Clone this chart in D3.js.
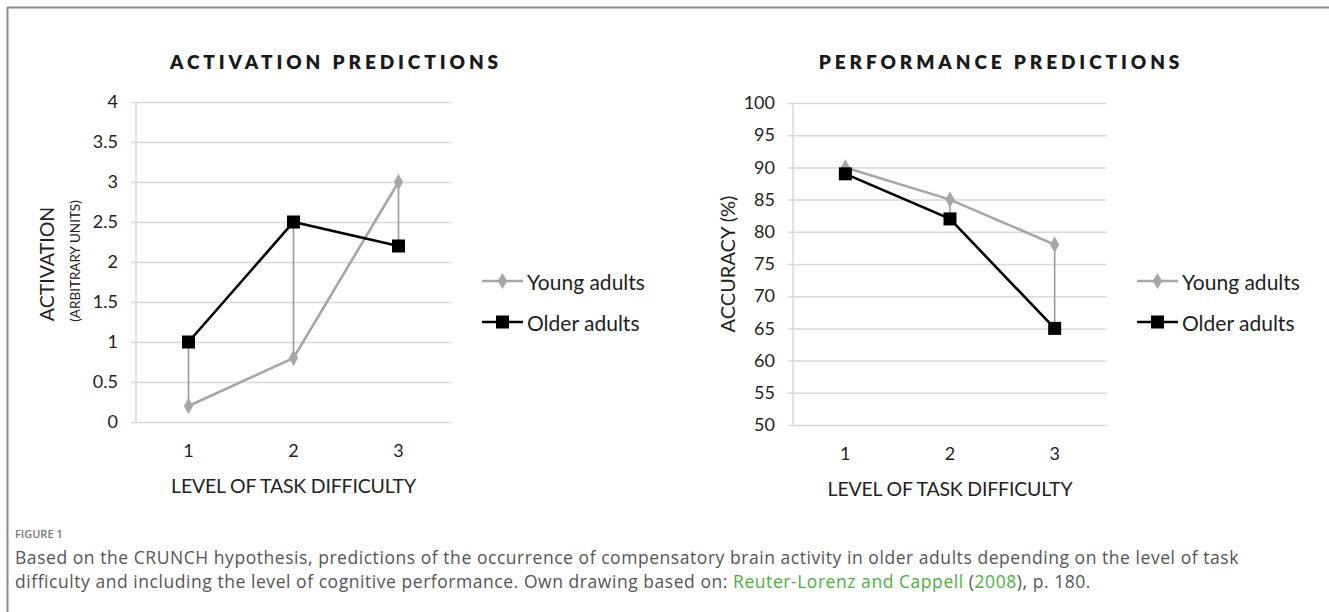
<!DOCTYPE html>
<html>
<head>
<meta charset="utf-8">
<script src="https://cdn.jsdelivr.net/npm/d3@7"></script>
<style>
  html, body { margin: 0; padding: 0; background: #fff; }
  svg { display: block; }
</style>
</head>
<body>
<svg id="fig" width="1329" height="612"></svg>
<script>
// Task difficulty levels shared by both panels
const levels = [1, 2, 3];

// Activation panel (arbitrary units)
const activationYoung = [0.2, 0.8, 3.0];
const activationOlder = [1.0, 2.5, 2.2];
const activationTicks = [0, 0.5, 1, 1.5, 2, 2.5, 3, 3.5, 4];

// Performance panel (accuracy, %)
const accuracyYoung = [90, 85, 78];
const accuracyOlder = [89, 82, 65];
const accuracyTicks = [50, 55, 60, 65, 70, 75, 80, 85, 90, 95, 100];

const seriesNames = ["Young adults", "Older adults"];

const chartFont = "Lato, 'Open Sans', sans-serif";
const youngColor = "#a6a6a6";
const olderColor = "#000000";
const gridColor = "#d9d9d9";

const svg = d3.select("#fig");

// Frame lines along the top and left edge
svg.append("line").attr("x1", 7).attr("x2", 1329).attr("y1", 7.5).attr("y2", 7.5)
  .attr("stroke", "#8c8c8c").attr("stroke-width", 2);
svg.append("line").attr("x1", 7.5).attr("x2", 7.5).attr("y1", 7).attr("y2", 612)
  .attr("stroke", "#8c8c8c").attr("stroke-width", 2);

function drawPanel(cfg) {
  const g = svg.append("g");
  const x = d3.scaleBand().domain(levels).range(cfg.xRange);
  const y = d3.scaleLinear().domain(cfg.yDomain).range(cfg.yRange);
  const cx = d => x(d) + x.bandwidth() / 2;

  // Title
  g.append("text")
    .attr("x", cfg.titleX).attr("y", 61)
    .attr("text-anchor", "middle").attr("dominant-baseline", "central")
    .attr("font-family", chartFont).attr("font-weight", 800)
    .attr("font-size", 19).attr("letter-spacing", 3.9)
    .attr("fill", "#1a1a1a")
    .text(cfg.title);

  // Horizontal gridlines with short left ticks
  const yAxis = d3.axisLeft(y).tickValues(cfg.ticks).tickFormat(d3.format(""))
    .tickSize(-(cfg.xRange[1] - cfg.xRange[0])).tickPadding(18);
  const ya = g.append("g").attr("transform", `translate(${cfg.xRange[0]},0)`).call(yAxis);
  ya.select(".domain").remove();
  ya.selectAll(".tick line").attr("stroke", gridColor).attr("stroke-width", 1.5)
    .attr("x1", -5);
  ya.selectAll(".tick text").attr("font-family", chartFont).attr("font-size", 18)
    .attr("fill", "#222");

  // Vertical axis line
  g.append("line")
    .attr("x1", cfg.xRange[0]).attr("x2", cfg.xRange[0])
    .attr("y1", cfg.yRange[1]).attr("y2", cfg.yRange[0])
    .attr("stroke", gridColor).attr("stroke-width", 1.5);

  // Category labels
  const xAxis = d3.axisBottom(x).tickSize(0).tickPadding(22);
  const xa = g.append("g").attr("transform", `translate(0,${cfg.yRange[0]})`).call(xAxis);
  xa.select(".domain").remove();
  xa.selectAll(".tick text").attr("font-family", chartFont).attr("font-size", 18)
    .attr("fill", "#222");

  // Axis titles
  g.append("text")
    .attr("x", cx(2)).attr("y", cfg.xTitleY)
    .attr("text-anchor", "middle").attr("dominant-baseline", "central")
    .attr("font-family", chartFont).attr("font-size", 19.5).attr("fill", "#222")
    .attr("letter-spacing", -0.2)
    .text("LEVEL OF TASK DIFFICULTY");

  cfg.yTitles.forEach(t => {
    g.append("text")
      .attr("transform", `translate(${t.x},${t.y}) rotate(-90)`)
      .attr("text-anchor", "middle").attr("dominant-baseline", "central")
      .attr("font-family", chartFont).attr("font-size", t.size).attr("fill", "#222")
      .text(t.text);
  });

  // High-low connectors between the two series
  g.selectAll(".hilo").data(levels).join("line")
    .attr("x1", cx).attr("x2", cx)
    .attr("y1", (d, i) => y(cfg.young[i])).attr("y2", (d, i) => y(cfg.older[i]))
    .attr("stroke", "#9a9a9a").attr("stroke-width", 1.6);

  const line = d3.line().x((d, i) => cx(levels[i])).y(d => y(d));

  g.append("path").datum(cfg.young).attr("d", line)
    .attr("fill", "none").attr("stroke", youngColor).attr("stroke-width", 2.6);
  g.append("path").datum(cfg.older).attr("d", line)
    .attr("fill", "none").attr("stroke", olderColor).attr("stroke-width", 2.6);

  const diamond = d3.symbol().type(d3.symbolDiamond).size(75);
  g.selectAll(".ym").data(cfg.young).join("path")
    .attr("d", diamond)
    .attr("transform", (d, i) => `translate(${cx(levels[i])},${y(d)})`)
    .attr("fill", youngColor);

  g.selectAll(".om").data(cfg.older).join("rect")
    .attr("x", (d, i) => cx(levels[i]) - 6.5).attr("y", d => y(d) - 6.5)
    .attr("width", 13).attr("height", 13)
    .attr("fill", olderColor);

  // Legend
  const lg = g.append("g");
  const rows = [
    { name: seriesNames[0], color: youngColor, y: 281, shape: "diamond" },
    { name: seriesNames[1], color: olderColor, y: 322, shape: "square" }
  ];
  rows.forEach(r => {
    const x0 = cfg.legendX, x1 = cfg.legendX + 41, xm = (x0 + x1) / 2;
    lg.append("line").attr("x1", x0).attr("x2", x1).attr("y1", r.y).attr("y2", r.y)
      .attr("stroke", r.color).attr("stroke-width", 2.6);
    if (r.shape === "diamond") {
      lg.append("path").attr("d", diamond).attr("transform", `translate(${xm},${r.y})`)
        .attr("fill", r.color);
    } else {
      lg.append("rect").attr("x", xm - 6.5).attr("y", r.y - 6.5).attr("width", 13).attr("height", 13)
        .attr("fill", r.color);
    }
    lg.append("text").attr("x", x1 + 4).attr("y", r.y)
      .attr("dominant-baseline", "central")
      .attr("font-family", chartFont).attr("font-size", 21).attr("fill", "#222")
      .text(r.name);
  });
}

drawPanel({
  title: "ACTIVATION PREDICTIONS",
  titleX: 336,
  xRange: [136, 451],
  yDomain: [0, 4],
  yRange: [422, 102],
  ticks: activationTicks,
  young: activationYoung,
  older: activationOlder,
  legendX: 482,
  xTitleY: 485,
  yTitles: [
    { text: "ACTIVATION", x: 46, y: 264, size: 19.5 },
    { text: "(ARBITRARY UNITS)", x: 75, y: 261, size: 13.5 }
  ]
});

drawPanel({
  title: "PERFORMANCE PREDICTIONS",
  titleX: 1001,
  xRange: [793, 1107],
  yDomain: [50, 100],
  yRange: [425, 103],
  ticks: accuracyTicks,
  young: accuracyYoung,
  older: accuracyOlder,
  legendX: 1137,
  xTitleY: 488,
  yTitles: [
    { text: "ACCURACY (%)", x: 727, y: 264, size: 20 }
  ]
});

// Caption
const capFont = "'Open Sans', Lato, sans-serif";
svg.append("text").attr("x", 15).attr("y", 538)
  .attr("font-family", capFont).attr("font-size", 11).attr("font-weight", 600)
  .attr("fill", "#7a7a7a")
  .text("FIGURE 1");

const cap1 = svg.append("text").attr("x", 15).attr("y", 564)
  .attr("font-family", capFont).attr("font-size", 17.5).attr("letter-spacing", 0.55)
  .attr("fill", "#555");
cap1.text("Based on the CRUNCH hypothesis, predictions of the occurrence of compensatory brain activity in older adults depending on the level of task");

const cap2 = svg.append("text").attr("x", 15).attr("y", 588)
  .attr("font-family", capFont).attr("font-size", 17.5).attr("letter-spacing", 0.55)
  .attr("fill", "#555");
cap2.append("tspan").text("difficulty and including the level of cognitive performance. Own drawing based on: ");
cap2.append("tspan").attr("fill", "#4caf3f").text("Reuter-Lorenz and Cappell");
cap2.append("tspan").text(" (");
cap2.append("tspan").attr("fill", "#4caf3f").text("2008");
cap2.append("tspan").text("), p. 180.");
</script>
</body>
</html>
